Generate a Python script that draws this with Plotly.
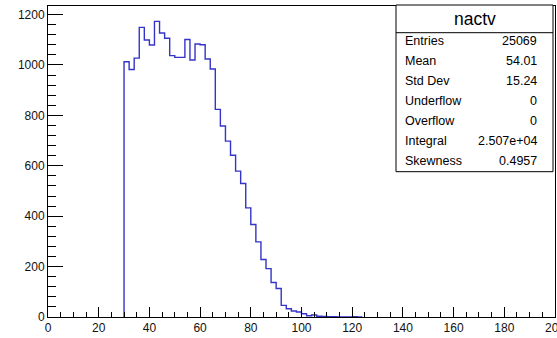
import plotly.graph_objects as go

# ---- data ----
bin_width = 2
first_edge = 30
counts = [1013, 982, 1027, 1149, 1099, 1079, 1173, 1127, 1106, 1037,
          1030, 1030, 1101, 1020, 1083, 1080, 1024, 984, 824, 758,
          698, 642, 579, 530, 433, 367, 298, 228, 192, 137,
          113, 46, 33, 24, 20, 13, 5, 8, 3, 2,
          1, 1, 0, 0, 0, 1, 0]
x_ticks = [0, 20, 40, 60, 80, 100, 120, 140, 160, 180, 200]
y_ticks = [0, 200, 400, 600, 800, 1000, 1200]

stats_title = "nactv"
stats_labels = ["Entries", "Mean", "Std Dev", "Underflow", "Overflow", "Integral", "Skewness"]
stats_values = ["25069", "54.01", "15.24", "0", "0", "2.507e+04", "0.4957"]

# ---- histogram outline (step) ----
xs = [first_edge]
ys = [0]
for i, c in enumerate(counts):
    xs.append(first_edge + i * bin_width)
    ys.append(c)
xs.append(first_edge + len(counts) * bin_width)
ys.append(0)

W, H = 557, 338
L, R, T, B = 48, 2, 6, 21
pw, ph = W - L - R, H - T - B

def px(x):
    return (x - L) / pw

def py(y):
    return (H - B - y) / ph

fig = go.Figure()
fig.add_trace(go.Scatter(x=xs, y=ys, mode="lines", line=dict(color="#3434c8", width=1.4, shape="hv"),
                         hoverinfo="skip", showlegend=False))

font = "Liberation Sans, Arial, Helvetica, sans-serif"
axis_common = dict(showgrid=False, zeroline=False, showline=True, linecolor="black", linewidth=1,
                   mirror=True, ticks="inside", tickcolor="black", tickwidth=1,
                   ticklabeloverflow="allow", automargin=False,
                   tickfont=dict(family=font, size=12, color="#111"))

fig.update_layout(
    width=W, height=H, margin=dict(l=L, r=R, t=T, b=B, autoexpand=False),
    paper_bgcolor="white", plot_bgcolor="white",
    xaxis=dict(range=[0, 200], tickvals=x_ticks, ticklen=10,
               minor=dict(dtick=5, ticklen=5, ticks="inside", tickcolor="black", tickwidth=1),
               **axis_common),
    yaxis=dict(range=[0, 1234], tickvals=y_ticks, ticklen=15,
               minor=dict(dtick=40, ticklen=8, ticks="inside", tickcolor="black", tickwidth=1),
               **axis_common),
)

# ---- stats box ----
bx0, bx1, by0, by1 = 396, 553, 5, 171.7
fig.add_shape(type="rect", xref="paper", yref="paper", x0=px(bx0), x1=px(bx1), y0=py(by1), y1=py(by0),
              line=dict(color="black", width=1), fillcolor="white", layer="above")
fig.add_shape(type="line", xref="paper", yref="paper", x0=px(bx0), x1=px(bx1), y0=py(32.7), y1=py(32.7),
              line=dict(color="black", width=1), layer="above")
fig.add_annotation(xref="paper", yref="paper", x=px((bx0 + bx1) / 2), y=py(19), text=stats_title,
                   showarrow=False, xanchor="center", yanchor="middle",
                   font=dict(family=font, size=17.5, color="black"))
for i, (lab, val) in enumerate(zip(stats_labels, stats_values)):
    yy = 41.5 + i * 19.95
    fig.add_annotation(xref="paper", yref="paper", x=px(403), y=py(yy), text=lab, showarrow=False,
                       xanchor="left", yanchor="middle", font=dict(family=font, size=12.5, color="black"))
    fig.add_annotation(xref="paper", yref="paper", x=px(539), y=py(yy), text=val, showarrow=False,
                       xanchor="right", yanchor="middle", font=dict(family=font, size=12.5, color="black"))

fig.write_html("out.html")
